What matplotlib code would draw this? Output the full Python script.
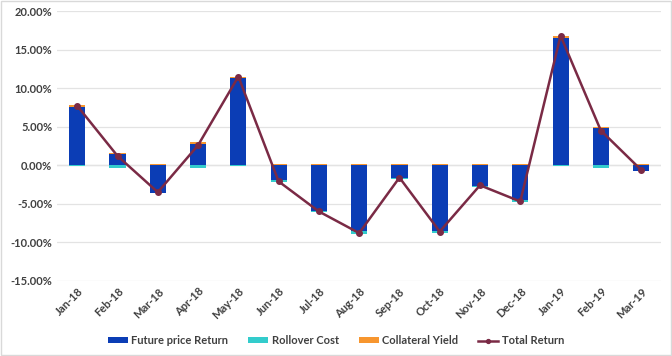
import numpy as np
import matplotlib
matplotlib.use('Agg')
import matplotlib.pyplot as plt
from matplotlib.ticker import FuncFormatter
from matplotlib.patches import Rectangle

# data (percent)
months = ['Jan-18', 'Feb-18', 'Mar-18', 'Apr-18', 'May-18', 'Jun-18', 'Jul-18', 'Aug-18',
          'Sep-18', 'Oct-18', 'Nov-18', 'Dec-18', 'Jan-19', 'Feb-19', 'Mar-19']
future_ret = [7.6, 1.5, -3.6, 2.8, 11.3, -1.9, -6.0, -8.5, -1.7, -8.5, -2.7, -4.5, 16.5, 4.8, -0.7]
rollover = [-0.05, -0.3, -0.05, -0.3, -0.05, -0.3, -0.1, -0.4, -0.05, -0.3, -0.1, -0.3, -0.05, -0.4, -0.05]
collateral = [0.15, 0.15, 0.15, 0.15, 0.15, 0.15, 0.15, 0.15, 0.15, 0.15, 0.15, 0.15, 0.2, 0.15, 0.15]
total_ret = [7.7, 1.2, -3.5, 2.6, 11.5, -2.1, -6.0, -8.8, -1.6, -8.6, -2.6, -4.7, 16.8, 4.5, -0.6]

c_future = '#0B3DB5'
c_roll = '#33CCCC'
c_coll = '#F7962F'
c_total = '#7A2A45'

plt.rcParams['font.family'] = ['Lato', 'DejaVu Sans']

fig = plt.figure(figsize=(6.72, 3.56), dpi=100)
ax = fig.add_axes([0.085, 0.211, 0.899, 0.758])

x = np.arange(len(months))
fr = np.array(future_ret)
ro = np.array(rollover)
co = np.array(collateral)

# excel style stacking: positives on positives, negatives on negatives
pos_base = np.where(fr > 0, fr, 0)
neg_base = np.where(fr < 0, fr, 0)
w = 0.4
b1 = ax.bar(x, fr, w, color=c_future, label='Future price Return', zorder=2)
b2 = ax.bar(x, ro, w, bottom=neg_base, color=c_roll, label='Rollover Cost', zorder=2)
b3 = ax.bar(x, co, w, bottom=pos_base, color=c_coll, label='Collateral Yield', zorder=2)
ln, = ax.plot(x, total_ret, color=c_total, lw=1.8, marker='o', ms=4, label='Total Return', zorder=3)

ax.set_ylim(-15, 20)
ax.set_xlim(-0.5, len(months) - 0.5)
ax.set_yticks(np.arange(-15, 21, 5))
ax.yaxis.set_major_formatter(FuncFormatter(lambda v, p: '%.2f%%' % v))
ax.grid(axis='y', color='#E3E3E3', lw=0.9, zorder=0)
ax.axhline(0, color='#D0D0D0', lw=0.9, zorder=1)
for s in ax.spines.values():
    s.set_visible(False)
ax.tick_params(length=0, labelsize=8, labelcolor='#404040')
ax.set_xticks(x)
ax.set_xticklabels(months, rotation=45, ha='right', rotation_mode='anchor')
for t in ax.get_yticklabels() + ax.get_xticklabels():
    t.set_fontweight('bold')

leg = fig.legend([b1, b2, b3, ln], ['Future price Return', 'Rollover Cost', 'Collateral Yield', 'Total Return'],
                 loc='center', bbox_to_anchor=(0.5, 0.043), ncol=4, frameon=False,
                 fontsize=8, handlelength=1.8, handleheight=0.5, columnspacing=1.8, handletextpad=0.3,
                 markerscale=0.7)
for t in leg.get_texts():
    t.set_color('#404040')
    t.set_fontweight('bold')

fig.patches.append(Rectangle((0.002, 0.003), 0.996, 0.994, transform=fig.transFigure,
                             fill=False, edgecolor='#D9D9D9', lw=1))

fig.savefig('out.png', dpi=100)
